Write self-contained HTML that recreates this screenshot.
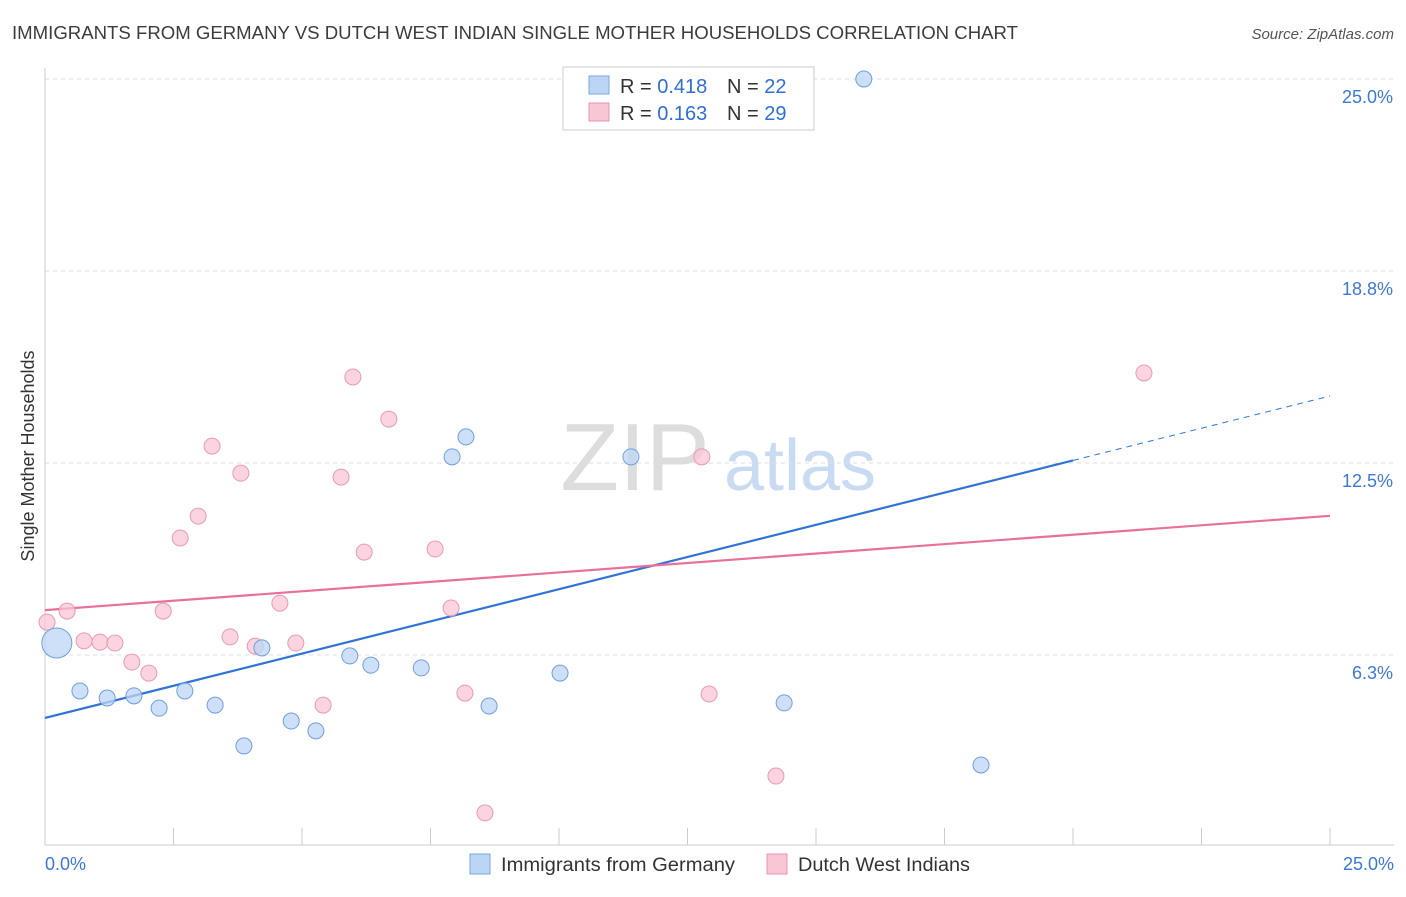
<!DOCTYPE html>
<html><head><meta charset="utf-8"><style>
body{margin:0;background:#fff;font-family:"Liberation Sans",sans-serif}
svg text{font-family:"Liberation Sans",sans-serif}
</style></head><body>
<svg id="chart" width="1406" height="892" xmlns="http://www.w3.org/2000/svg">
<text x="12" y="39" font-size="18" fill="#3c3c3c" textLength="1006" lengthAdjust="spacingAndGlyphs">IMMIGRANTS FROM GERMANY VS DUTCH WEST INDIAN SINGLE MOTHER HOUSEHOLDS CORRELATION CHART</text>
<text x="1394" y="39" font-size="15" fill="#555" text-anchor="end" font-style="italic">Source: ZipAtlas.com</text>
<text transform="translate(34,456) rotate(-90)" font-size="18" fill="#333" text-anchor="middle">Single Mother Households</text>
<g><text x="635" y="490" font-size="96" fill="#ddd" text-anchor="middle" font-family="Liberation Serif">ZIP</text><text x="800" y="490" font-size="72" fill="#c9dbf2" text-anchor="middle">atlas</text></g>
<g id="grid"></g><g id="axes"></g><g id="lines"></g><g id="pts"></g>
<g>
<rect x="563" y="67" width="251" height="63" fill="#fff" stroke="#ccc"/>
<rect x="589" y="76" width="20" height="18" fill="#bcd5f5" stroke="#7aa7e0"/>
<text x="620" y="93" font-size="20" fill="#333">R = <tspan fill="#2f6fd6">0.418</tspan></text>
<text x="727" y="93" font-size="20" fill="#333">N = <tspan fill="#2f6fd6">22</tspan></text>
<rect x="589" y="103" width="20" height="18" fill="#f9c6d5" stroke="#e895b0"/>
<text x="620" y="120" font-size="20" fill="#333">R = <tspan fill="#2f6fd6">0.163</tspan></text>
<text x="727" y="120" font-size="20" fill="#333">N = <tspan fill="#2f6fd6">29</tspan></text>
</g>
<g>
<rect x="470" y="854" width="20" height="20" fill="#bcd5f5" stroke="#7aa7e0"/>
<text x="501" y="871" font-size="19" fill="#333" textLength="234" lengthAdjust="spacingAndGlyphs">Immigrants from Germany</text>
<rect x="767" y="854" width="20" height="20" fill="#f9c6d5" stroke="#e895b0"/>
<text x="798" y="871" font-size="19" fill="#333" textLength="172" lengthAdjust="spacingAndGlyphs">Dutch West Indians</text>
</g>
</svg>
<script>
const blueX=[0.23,0.68,1.21,1.73,2.22,2.72,3.31,3.87,4.22,4.79,5.27,5.93,6.34,7.32,7.92,8.19,8.64,10.02,11.40,14.38,15.93,18.21];
const blueY=[6.64,5.08,4.85,4.92,4.52,5.08,4.62,3.29,6.48,4.10,3.78,6.22,5.92,5.83,12.70,13.35,4.59,5.66,12.70,4.69,25.0,2.67];
const pinkX=[0.04,0.43,0.76,1.07,1.36,1.69,2.02,2.30,2.63,2.98,3.25,3.60,3.81,4.09,4.57,4.88,5.41,5.76,5.99,6.21,6.69,7.59,7.90,8.17,8.56,12.78,12.92,14.22,21.38];
const pinkY=[7.32,7.68,6.71,6.67,6.64,6.02,5.66,7.68,10.06,10.77,13.05,6.84,12.17,6.54,7.94,6.64,4.62,12.04,15.30,9.60,13.93,9.70,7.78,5.01,1.11,12.70,4.98,2.31,15.43];
const blueTrend=[4.20,14.68];
const pinkTrend=[7.71,10.78];
const yTicks=[6.25,12.5,18.75,25];
const yTickLabels=["6.3%","12.5%","18.8%","25.0%"];
const xTickLabels=["0.0%","25.0%"];
const NS="http://www.w3.org/2000/svg";
const X=v=>45+v*51.4, Y=v=>847-v*30.72;
function mk(p,t,a){const e=document.createElementNS(NS,t);for(const k in a)e.setAttribute(k,a[k]);document.getElementById(p).appendChild(e);return e;}
yTicks.forEach((t,i)=>{
 const g=mk('grid','line',{x1:45,x2:1394,y1:Y(t),y2:Y(t),stroke:'#ddd','stroke-dasharray':'4,4'});
 
 
 const l=mk('grid','text',{x:1393,y:Y(t)+24,'font-size':18,fill:'#3b78d8','text-anchor':'end'});
 l.textContent=yTickLabels[i];
 
 
});
const ax=mk('axes','line',{x1:45,x2:45,y1:68,y2:845,stroke:'#ccc'});


const bx=mk('axes','line',{x1:45,x2:1394,y1:845,y2:845,stroke:'#ccc'});


for(let i=0;i<=10;i++){const t=mk('axes','line',{x1:X(i*2.5),x2:X(i*2.5),y1:828,y2:845,stroke:'#ccc'});
 
 }
[[0,'start',45],[25,'end',1394]].forEach((d,i)=>{const t=mk('axes','text',{x:d[2],y:870,'font-size':18,fill:'#3b78d8','text-anchor':d[1]});t.textContent=xTickLabels[i];
 
 });
const slope=(blueTrend[1]-blueTrend[0])/25;
const b1=mk('lines','line',{x1:X(0),y1:Y(blueTrend[0]),x2:X(20),y2:Y(blueTrend[0]+slope*20),stroke:'#2f74d6','stroke-width':2.2});


const b2=mk('lines','line',{x1:X(20),y1:Y(blueTrend[0]+slope*20),x2:X(25),y2:Y(blueTrend[1]),stroke:'#2f74d6','stroke-width':1,'stroke-dasharray':'6,5'});


const p1=mk('lines','line',{x1:X(0),y1:Y(pinkTrend[0]),x2:X(25),y2:Y(pinkTrend[1]),stroke:'#e8709a','stroke-width':2.2});


pinkX.forEach((x,i)=>{const c=mk('pts','circle',{cx:X(x),cy:Y(pinkY[i]),r:8,fill:'#f9c6d5','fill-opacity':0.75,stroke:'#e99ab5'});
 
 });
blueX.forEach((x,i)=>{const c=mk('pts','circle',{cx:X(x),cy:Y(blueY[i]),r:i==0?15:8,fill:'#bcd5f5','fill-opacity':0.75,stroke:'#6f9fdc'});
 
 });
</script>
</body></html>
